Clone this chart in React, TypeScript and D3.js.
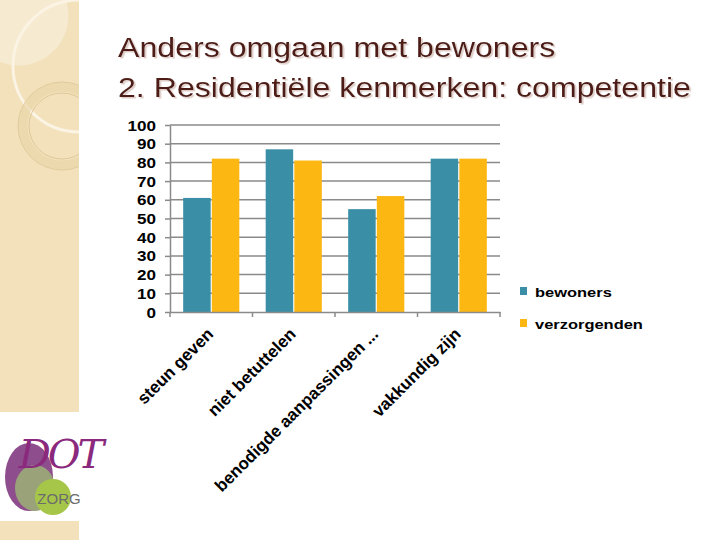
import React, { useEffect, useRef } from 'react';
import * as d3 from 'd3';

// chart data
const categories = ['steun geven', 'niet betuttelen', 'benodigde aanpassingen ...', 'vakkundig zijn'];
const seriesNames = ['bewoners', 'verzorgenden'];
const bewoners = [61, 87, 55, 82];
const verzorgenden = [82, 81, 62, 82];
const yTicks = [0, 10, 20, 30, 40, 50, 60, 70, 80, 90, 100];
const colors = ['#3a8fa7', '#fcb713'];

const App = () => {
  const ref = useRef<SVGSVGElement | null>(null);

  useEffect(() => {
    drawChart();
  }, []);

  const drawChart = () => {
    const svg = d3.select(ref.current);
    svg.selectAll('*').remove();

    const font = 'Liberation Sans, Arial, sans-serif';
    // the slide text is a bit wider than normal Arial
    const stretch = 1.22;

    const defs = svg.append('defs');
    const shadow = defs.append('filter').attr('id', 'titleShadow')
      .attr('x', '-5%').attr('y', '-20%').attr('width', '110%').attr('height', '150%');
    shadow.append('feDropShadow').attr('dx', 1.5).attr('dy', 1.5).attr('stdDeviation', 0.6)
      .attr('flood-color', '#c9a9a0').attr('flood-opacity', 0.6);

    // background decoration (left beige strip)
    svg.append('rect').attr('width', 720).attr('height', 540).attr('fill', '#ffffff');
    svg.append('rect').attr('x', 0).attr('y', 0).attr('width', 79).attr('height', 412).attr('fill', '#f2e1ba');
    svg.append('rect').attr('x', 0).attr('y', 521).attr('width', 79).attr('height', 19).attr('fill', '#f2e1ba');
    const deco = svg.append('g');
    deco.append('path')
      .attr('d', 'M0,0 L66,0 A50,50 0 0 1 0,62 Z')
      .attr('fill', '#f6ead0');
    deco.append('circle').attr('cx', 79).attr('cy', 66).attr('r', 66)
      .attr('fill', 'none').attr('stroke', '#fbf3e3').attr('stroke-width', 3);
    deco.append('circle').attr('cx', 62).attr('cy', 126).attr('r', 39)
      .attr('fill', 'none').attr('stroke', '#ead5a8').attr('stroke-width', 9).attr('opacity', 0.7);
    deco.append('circle').attr('cx', 62).attr('cy', 126).attr('r', 33)
      .attr('fill', 'none').attr('stroke', '#d9c293').attr('stroke-width', 0.8);
    deco.append('circle').attr('cx', 62).attr('cy', 126).attr('r', 44)
      .attr('fill', 'none').attr('stroke', '#dcc595').attr('stroke-width', 0.8);
    svg.append('rect').attr('x', 79).attr('y', 0).attr('width', 641).attr('height', 412).attr('fill', '#ffffff');

    // logo
    const logo = svg.append('g');
    logo.append('ellipse').attr('cx', 29).attr('cy', 477).attr('rx', 24).attr('ry', 34).attr('fill', '#8e4d8c');
    logo.append('ellipse').attr('cx', 35).attr('cy', 488).attr('rx', 20).attr('ry', 23).attr('fill', '#9aa27a');
    logo.append('circle').attr('cx', 53).attr('cy', 497).attr('r', 18).attr('fill', '#a6c64a');
    logo.append('text').attr('x', 60).attr('y', 468).attr('text-anchor', 'middle')
      .attr('font-family', 'DejaVu Serif, serif').attr('font-style', 'italic').attr('font-size', 40)
      .attr('fill', '#8b2a7c').attr('letter-spacing', -3).text('DOT');
    logo.append('text').attr('x', 59).attr('y', 504).attr('text-anchor', 'middle')
      .attr('font-family', font).attr('font-size', 15).attr('fill', '#6b6b6b').text('ZORG');

    // title
    const titleLines = ['Anders omgaan met bewoners', '2. Residentiële kenmerken: competentie'];
    titleLines.forEach((t, i) => {
      svg.append('text').attr('transform', `translate(118,${57 + i * 40}) scale(1.19,1)`)
        .attr('font-family', font).attr('font-size', 27).attr('fill', '#4e1e18')
        .attr('filter', 'url(#titleShadow)').text(t);
    });

    const margin = { left: 170, top: 125, right: 220, bottom: 228 };
    const width = 720 - margin.left - margin.right;
    const height = 540 - margin.top - margin.bottom;
    const g = svg.append('g').attr('transform', `translate(${margin.left},${margin.top})`);

    const x = d3.scaleBand().domain(categories).range([0, width]).paddingInner(0).paddingOuter(0);
    const x1 = d3.scaleBand().domain(seriesNames).range([0, x.bandwidth()]).paddingInner(0.04).paddingOuter(0.46);
    const y = d3.scaleLinear().domain([0, 100]).range([height, 0]);

    // gridlines
    g.append('g').selectAll('line').data(yTicks.filter(d => d > 0)).enter().append('line')
      .attr('x1', 0).attr('x2', width)
      .attr('y1', d => y(d)).attr('y2', d => y(d))
      .attr('stroke', '#8a8a8a').attr('stroke-width', 1.5);

    // bars
    const table = categories.map((c, i) => ({ cat: c, values: [bewoners[i], verzorgenden[i]] }));
    g.append('g').selectAll('g').data(table).enter().append('g')
      .attr('transform', d => `translate(${x(d.cat)},0)`)
      .selectAll('rect').data(d => d.values.map((v, j) => ({ key: seriesNames[j], v, j }))).enter().append('rect')
      .attr('x', d => x1(d.key) as number)
      .attr('y', d => y(d.v))
      .attr('width', x1.bandwidth())
      .attr('height', d => height - y(d.v))
      .attr('fill', d => colors[d.j]);

    // y axis
    const yAxis = g.append('g').call(d3.axisLeft(y).tickValues(yTicks).tickSize(5).tickSizeOuter(0));
    yAxis.select('.domain').attr('stroke', '#8a8a8a').attr('stroke-width', 1.5);
    yAxis.selectAll('.tick line').attr('stroke', '#8a8a8a').attr('stroke-width', 1.5);
    yAxis.selectAll('.tick text').attr('font-family', font).attr('font-size', 14).attr('font-weight', 'bold')
      .attr('fill', '#000')
      .attr('x', 0).attr('dy', '0.36em')
      .attr('transform', `translate(-14,0) scale(${stretch},1)`);

    // x axis
    const xAxis = g.append('g').attr('transform', `translate(0,${height})`)
      .call(d3.axisBottom(x).tickSize(0).tickSizeOuter(0));
    xAxis.select('.domain').attr('stroke', '#8a8a8a').attr('stroke-width', 1.5);
    xAxis.selectAll('.tick text')
      .attr('font-family', font).attr('font-size', 17).attr('font-weight', 'bold').attr('fill', '#000')
      .attr('text-anchor', 'end')
      .attr('transform', 'translate(-1,19) rotate(-45)')
      .attr('y', 0).attr('dy', '0.35em');
    g.append('g').selectAll('line').data(d3.range(categories.length + 1)).enter().append('line')
      .attr('x1', i => i * x.step()).attr('x2', i => i * x.step())
      .attr('y1', height).attr('y2', height + 5)
      .attr('stroke', '#8a8a8a').attr('stroke-width', 1.5);

    // legend
    const legend = svg.append('g').attr('transform', 'translate(520,287)');
    seriesNames.forEach((s, i) => {
      legend.append('rect').attr('x', 0).attr('y', i * 32).attr('width', 7).attr('height', 8).attr('fill', colors[i]);
      legend.append('text').attr('transform', `translate(15,${i * 32 + 10}) scale(${stretch},1)`)
        .attr('font-family', font).attr('font-size', 13.5).attr('font-weight', 'bold').attr('fill', '#000').text(s);
    });
  };

  return (
    <div style={{ position: 'absolute', left: 0, top: 0 }}>
      <svg ref={ref} width={720} height={540} style={{ display: 'block' }} />
    </div>
  );
};

export default App;
